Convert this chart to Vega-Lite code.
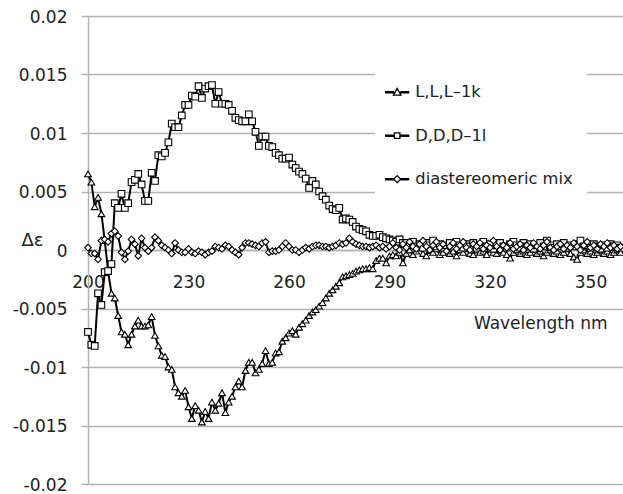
{
"$schema": "https://vega.github.io/schema/vega-lite/v6.json",
"width": 536,
"height": 468,
"autosize": "none",
"padding": {"left": 88, "top": 16, "right": 0, "bottom": 10},
"background": "white",
"config": {"view": {"stroke": null}, "font": "DejaVu Sans"},
"datasets": {
"cd": [
{"series":"L,L,L–1k","nm":200,"de":0.0065},{"series":"L,L,L–1k","nm":201,"de":0.0058},{"series":"L,L,L–1k","nm":202,"de":0.0037},{"series":"L,L,L–1k","nm":203,"de":0.0045},{"series":"L,L,L–1k","nm":204,"de":0.0031},{"series":"L,L,L–1k","nm":205,"de":0.0008},{"series":"L,L,L–1k","nm":206,"de":-0.0018},{"series":"L,L,L–1k","nm":207,"de":-0.0037},{"series":"L,L,L–1k","nm":208,"de":-0.0041},{"series":"L,L,L–1k","nm":209,"de":-0.0056},
{"series":"L,L,L–1k","nm":210,"de":-0.0070},{"series":"L,L,L–1k","nm":211,"de":-0.0072},{"series":"L,L,L–1k","nm":212,"de":-0.0081},{"series":"L,L,L–1k","nm":213,"de":-0.0072},{"series":"L,L,L–1k","nm":214,"de":-0.0065},{"series":"L,L,L–1k","nm":215,"de":-0.0060},{"series":"L,L,L–1k","nm":216,"de":-0.0065},{"series":"L,L,L–1k","nm":217,"de":-0.0065},{"series":"L,L,L–1k","nm":218,"de":-0.0064},{"series":"L,L,L–1k","nm":219,"de":-0.0057},
{"series":"L,L,L–1k","nm":220,"de":-0.0073},{"series":"L,L,L–1k","nm":221,"de":-0.0082},{"series":"L,L,L–1k","nm":222,"de":-0.0090},{"series":"L,L,L–1k","nm":223,"de":-0.0091},{"series":"L,L,L–1k","nm":224,"de":-0.0100},{"series":"L,L,L–1k","nm":225,"de":-0.0102},{"series":"L,L,L–1k","nm":226,"de":-0.0117},{"series":"L,L,L–1k","nm":227,"de":-0.0122},{"series":"L,L,L–1k","nm":228,"de":-0.0125},{"series":"L,L,L–1k","nm":229,"de":-0.0120},
{"series":"L,L,L–1k","nm":230,"de":-0.0134},{"series":"L,L,L–1k","nm":231,"de":-0.0144},{"series":"L,L,L–1k","nm":232,"de":-0.0133},{"series":"L,L,L–1k","nm":233,"de":-0.0137},{"series":"L,L,L–1k","nm":234,"de":-0.0147},{"series":"L,L,L–1k","nm":235,"de":-0.0138},{"series":"L,L,L–1k","nm":236,"de":-0.0144},{"series":"L,L,L–1k","nm":237,"de":-0.0130},{"series":"L,L,L–1k","nm":238,"de":-0.0137},{"series":"L,L,L–1k","nm":239,"de":-0.0131},
{"series":"L,L,L–1k","nm":240,"de":-0.0122},{"series":"L,L,L–1k","nm":241,"de":-0.0139},{"series":"L,L,L–1k","nm":242,"de":-0.0130},{"series":"L,L,L–1k","nm":243,"de":-0.0125},{"series":"L,L,L–1k","nm":244,"de":-0.0117},{"series":"L,L,L–1k","nm":245,"de":-0.0112},{"series":"L,L,L–1k","nm":246,"de":-0.0117},{"series":"L,L,L–1k","nm":247,"de":-0.0103},{"series":"L,L,L–1k","nm":248,"de":-0.0096},{"series":"L,L,L–1k","nm":249,"de":-0.0096},
{"series":"L,L,L–1k","nm":250,"de":-0.0105},{"series":"L,L,L–1k","nm":251,"de":-0.0102},{"series":"L,L,L–1k","nm":252,"de":-0.0097},{"series":"L,L,L–1k","nm":253,"de":-0.0086},{"series":"L,L,L–1k","nm":254,"de":-0.0097},{"series":"L,L,L–1k","nm":255,"de":-0.0096},{"series":"L,L,L–1k","nm":256,"de":-0.0088},{"series":"L,L,L–1k","nm":257,"de":-0.0087},{"series":"L,L,L–1k","nm":258,"de":-0.0078},{"series":"L,L,L–1k","nm":259,"de":-0.0075},
{"series":"L,L,L–1k","nm":260,"de":-0.0071},{"series":"L,L,L–1k","nm":261,"de":-0.0069},{"series":"L,L,L–1k","nm":262,"de":-0.0072},{"series":"L,L,L–1k","nm":263,"de":-0.0066},{"series":"L,L,L–1k","nm":264,"de":-0.0063},{"series":"L,L,L–1k","nm":265,"de":-0.0060},{"series":"L,L,L–1k","nm":266,"de":-0.0056},{"series":"L,L,L–1k","nm":267,"de":-0.0053},{"series":"L,L,L–1k","nm":268,"de":-0.0051},{"series":"L,L,L–1k","nm":269,"de":-0.0048},
{"series":"L,L,L–1k","nm":270,"de":-0.0045},{"series":"L,L,L–1k","nm":271,"de":-0.0041},{"series":"L,L,L–1k","nm":272,"de":-0.0037},{"series":"L,L,L–1k","nm":273,"de":-0.0034},{"series":"L,L,L–1k","nm":274,"de":-0.0031},{"series":"L,L,L–1k","nm":275,"de":-0.0028},{"series":"L,L,L–1k","nm":276,"de":-0.0023},{"series":"L,L,L–1k","nm":277,"de":-0.0022},{"series":"L,L,L–1k","nm":278,"de":-0.0021},{"series":"L,L,L–1k","nm":279,"de":-0.0020},
{"series":"L,L,L–1k","nm":280,"de":-0.0018},{"series":"L,L,L–1k","nm":281,"de":-0.0017},{"series":"L,L,L–1k","nm":282,"de":-0.0016},{"series":"L,L,L–1k","nm":283,"de":-0.0016},{"series":"L,L,L–1k","nm":284,"de":-0.0015},{"series":"L,L,L–1k","nm":285,"de":-0.0016},{"series":"L,L,L–1k","nm":286,"de":-0.0009},{"series":"L,L,L–1k","nm":287,"de":-0.0007},{"series":"L,L,L–1k","nm":288,"de":-0.0007},{"series":"L,L,L–1k","nm":289,"de":-0.0011},
{"series":"L,L,L–1k","nm":290,"de":-0.0005},{"series":"L,L,L–1k","nm":291,"de":-0.0004},{"series":"L,L,L–1k","nm":292,"de":-0.0005},{"series":"L,L,L–1k","nm":293,"de":-0.0002},{"series":"L,L,L–1k","nm":294,"de":-0.0011},{"series":"L,L,L–1k","nm":295,"de":-0.0003},{"series":"L,L,L–1k","nm":296,"de":0.0000},{"series":"L,L,L–1k","nm":297,"de":-0.0004},{"series":"L,L,L–1k","nm":298,"de":-0.0001},{"series":"L,L,L–1k","nm":299,"de":0.0002},
{"series":"L,L,L–1k","nm":300,"de":-0.0003},{"series":"L,L,L–1k","nm":301,"de":-0.0005},{"series":"L,L,L–1k","nm":302,"de":0.0000},{"series":"L,L,L–1k","nm":303,"de":-0.0002},{"series":"L,L,L–1k","nm":304,"de":0.0001},{"series":"L,L,L–1k","nm":305,"de":-0.0004},{"series":"L,L,L–1k","nm":306,"de":-0.0002},{"series":"L,L,L–1k","nm":307,"de":0.0001},{"series":"L,L,L–1k","nm":308,"de":-0.0003},{"series":"L,L,L–1k","nm":309,"de":-0.0001},
{"series":"L,L,L–1k","nm":310,"de":-0.0005},{"series":"L,L,L–1k","nm":311,"de":0.0000},{"series":"L,L,L–1k","nm":312,"de":-0.0002},{"series":"L,L,L–1k","nm":313,"de":0.0001},{"series":"L,L,L–1k","nm":314,"de":-0.0003},{"series":"L,L,L–1k","nm":315,"de":-0.0004},{"series":"L,L,L–1k","nm":316,"de":0.0000},{"series":"L,L,L–1k","nm":317,"de":-0.0002},{"series":"L,L,L–1k","nm":318,"de":-0.0001},{"series":"L,L,L–1k","nm":319,"de":-0.0004},
{"series":"L,L,L–1k","nm":320,"de":0.0001},{"series":"L,L,L–1k","nm":321,"de":-0.0002},{"series":"L,L,L–1k","nm":322,"de":-0.0003},{"series":"L,L,L–1k","nm":323,"de":0.0000},{"series":"L,L,L–1k","nm":324,"de":-0.0002},{"series":"L,L,L–1k","nm":325,"de":-0.0004},{"series":"L,L,L–1k","nm":326,"de":-0.0007},{"series":"L,L,L–1k","nm":327,"de":-0.0002},{"series":"L,L,L–1k","nm":328,"de":0.0000},{"series":"L,L,L–1k","nm":329,"de":-0.0003},
{"series":"L,L,L–1k","nm":330,"de":-0.0001},{"series":"L,L,L–1k","nm":331,"de":-0.0004},{"series":"L,L,L–1k","nm":332,"de":-0.0002},{"series":"L,L,L–1k","nm":333,"de":0.0001},{"series":"L,L,L–1k","nm":334,"de":-0.0003},{"series":"L,L,L–1k","nm":335,"de":-0.0001},{"series":"L,L,L–1k","nm":336,"de":-0.0005},{"series":"L,L,L–1k","nm":337,"de":-0.0002},{"series":"L,L,L–1k","nm":338,"de":0.0000},{"series":"L,L,L–1k","nm":339,"de":-0.0003},
{"series":"L,L,L–1k","nm":340,"de":-0.0001},{"series":"L,L,L–1k","nm":341,"de":-0.0004},{"series":"L,L,L–1k","nm":342,"de":-0.0002},{"series":"L,L,L–1k","nm":343,"de":0.0001},{"series":"L,L,L–1k","nm":344,"de":-0.0003},{"series":"L,L,L–1k","nm":345,"de":-0.0006},{"series":"L,L,L–1k","nm":346,"de":-0.0008},{"series":"L,L,L–1k","nm":347,"de":-0.0002},{"series":"L,L,L–1k","nm":348,"de":0.0000},{"series":"L,L,L–1k","nm":349,"de":-0.0003},
{"series":"L,L,L–1k","nm":350,"de":-0.0001},{"series":"L,L,L–1k","nm":351,"de":-0.0004},{"series":"L,L,L–1k","nm":352,"de":-0.0002},{"series":"L,L,L–1k","nm":353,"de":0.0000},{"series":"L,L,L–1k","nm":354,"de":-0.0003},{"series":"L,L,L–1k","nm":355,"de":-0.0001},{"series":"L,L,L–1k","nm":356,"de":-0.0004},{"series":"L,L,L–1k","nm":357,"de":-0.0002},{"series":"L,L,L–1k","nm":358,"de":0.0000},{"series":"L,L,L–1k","nm":359,"de":-0.0002},

{"series":"D,D,D–1l","nm":200,"de":-0.0070},{"series":"D,D,D–1l","nm":201,"de":-0.0081},{"series":"D,D,D–1l","nm":202,"de":-0.0082},{"series":"D,D,D–1l","nm":203,"de":-0.0037},{"series":"D,D,D–1l","nm":204,"de":-0.0047},{"series":"D,D,D–1l","nm":205,"de":-0.0019},{"series":"D,D,D–1l","nm":206,"de":-0.0018},{"series":"D,D,D–1l","nm":207,"de":-0.0012},{"series":"D,D,D–1l","nm":208,"de":0.0040},{"series":"D,D,D–1l","nm":209,"de":0.0036},
{"series":"D,D,D–1l","nm":210,"de":0.0048},{"series":"D,D,D–1l","nm":211,"de":0.0036},{"series":"D,D,D–1l","nm":212,"de":0.0040},{"series":"D,D,D–1l","nm":213,"de":0.0058},{"series":"D,D,D–1l","nm":214,"de":0.0060},{"series":"D,D,D–1l","nm":215,"de":0.0065},{"series":"D,D,D–1l","nm":216,"de":0.0056},{"series":"D,D,D–1l","nm":217,"de":0.0042},{"series":"D,D,D–1l","nm":218,"de":0.0042},{"series":"D,D,D–1l","nm":219,"de":0.0066},
{"series":"D,D,D–1l","nm":220,"de":0.0059},{"series":"D,D,D–1l","nm":221,"de":0.0081},{"series":"D,D,D–1l","nm":222,"de":0.0080},{"series":"D,D,D–1l","nm":223,"de":0.0083},{"series":"D,D,D–1l","nm":224,"de":0.0092},{"series":"D,D,D–1l","nm":225,"de":0.0108},{"series":"D,D,D–1l","nm":226,"de":0.0105},{"series":"D,D,D–1l","nm":227,"de":0.0105},{"series":"D,D,D–1l","nm":228,"de":0.0115},{"series":"D,D,D–1l","nm":229,"de":0.0124},
{"series":"D,D,D–1l","nm":230,"de":0.0124},{"series":"D,D,D–1l","nm":231,"de":0.0132},{"series":"D,D,D–1l","nm":232,"de":0.0131},{"series":"D,D,D–1l","nm":233,"de":0.0140},{"series":"D,D,D–1l","nm":234,"de":0.0130},{"series":"D,D,D–1l","nm":235,"de":0.0138},{"series":"D,D,D–1l","nm":236,"de":0.0140},{"series":"D,D,D–1l","nm":237,"de":0.0141},{"series":"D,D,D–1l","nm":238,"de":0.0125},{"series":"D,D,D–1l","nm":239,"de":0.0135},
{"series":"D,D,D–1l","nm":240,"de":0.0125},{"series":"D,D,D–1l","nm":241,"de":0.0125},{"series":"D,D,D–1l","nm":242,"de":0.0124},{"series":"D,D,D–1l","nm":243,"de":0.0119},{"series":"D,D,D–1l","nm":244,"de":0.0113},{"series":"D,D,D–1l","nm":245,"de":0.0111},{"series":"D,D,D–1l","nm":246,"de":0.0110},{"series":"D,D,D–1l","nm":247,"de":0.0110},{"series":"D,D,D–1l","nm":248,"de":0.0116},{"series":"D,D,D–1l","nm":249,"de":0.0110},
{"series":"D,D,D–1l","nm":250,"de":0.0101},{"series":"D,D,D–1l","nm":251,"de":0.0089},{"series":"D,D,D–1l","nm":252,"de":0.0097},{"series":"D,D,D–1l","nm":253,"de":0.0097},{"series":"D,D,D–1l","nm":254,"de":0.0089},{"series":"D,D,D–1l","nm":255,"de":0.0088},{"series":"D,D,D–1l","nm":256,"de":0.0083},{"series":"D,D,D–1l","nm":257,"de":0.0081},{"series":"D,D,D–1l","nm":258,"de":0.0078},{"series":"D,D,D–1l","nm":259,"de":0.0078},
{"series":"D,D,D–1l","nm":260,"de":0.0079},{"series":"D,D,D–1l","nm":261,"de":0.0073},{"series":"D,D,D–1l","nm":262,"de":0.0070},{"series":"D,D,D–1l","nm":263,"de":0.0067},{"series":"D,D,D–1l","nm":264,"de":0.0065},{"series":"D,D,D–1l","nm":265,"de":0.0061},{"series":"D,D,D–1l","nm":266,"de":0.0053},{"series":"D,D,D–1l","nm":267,"de":0.0059},{"series":"D,D,D–1l","nm":268,"de":0.0056},{"series":"D,D,D–1l","nm":269,"de":0.0050},
{"series":"D,D,D–1l","nm":270,"de":0.0046},{"series":"D,D,D–1l","nm":271,"de":0.0043},{"series":"D,D,D–1l","nm":272,"de":0.0038},{"series":"D,D,D–1l","nm":273,"de":0.0035},{"series":"D,D,D–1l","nm":274,"de":0.0034},{"series":"D,D,D–1l","nm":275,"de":0.0036},{"series":"D,D,D–1l","nm":276,"de":0.0026},{"series":"D,D,D–1l","nm":277,"de":0.0027},{"series":"D,D,D–1l","nm":278,"de":0.0026},{"series":"D,D,D–1l","nm":279,"de":0.0024},
{"series":"D,D,D–1l","nm":280,"de":0.0020},{"series":"D,D,D–1l","nm":281,"de":0.0018},{"series":"D,D,D–1l","nm":282,"de":0.0017},{"series":"D,D,D–1l","nm":283,"de":0.0016},{"series":"D,D,D–1l","nm":284,"de":0.0013},{"series":"D,D,D–1l","nm":285,"de":0.0012},{"series":"D,D,D–1l","nm":286,"de":0.0012},{"series":"D,D,D–1l","nm":287,"de":0.0013},{"series":"D,D,D–1l","nm":288,"de":0.0011},{"series":"D,D,D–1l","nm":289,"de":0.0010},
{"series":"D,D,D–1l","nm":290,"de":0.0009},{"series":"D,D,D–1l","nm":291,"de":0.0008},{"series":"D,D,D–1l","nm":292,"de":0.0007},{"series":"D,D,D–1l","nm":293,"de":0.0009},{"series":"D,D,D–1l","nm":294,"de":0.0006},{"series":"D,D,D–1l","nm":295,"de":0.0006},{"series":"D,D,D–1l","nm":296,"de":0.0004},{"series":"D,D,D–1l","nm":297,"de":0.0007},{"series":"D,D,D–1l","nm":298,"de":0.0003},{"series":"D,D,D–1l","nm":299,"de":0.0005},
{"series":"D,D,D–1l","nm":300,"de":0.0002},{"series":"D,D,D–1l","nm":301,"de":0.0006},{"series":"D,D,D–1l","nm":302,"de":0.0004},{"series":"D,D,D–1l","nm":303,"de":0.0008},{"series":"D,D,D–1l","nm":304,"de":0.0003},{"series":"D,D,D–1l","nm":305,"de":0.0005},{"series":"D,D,D–1l","nm":306,"de":0.0002},{"series":"D,D,D–1l","nm":307,"de":0.0004},{"series":"D,D,D–1l","nm":308,"de":0.0006},{"series":"D,D,D–1l","nm":309,"de":0.0003},
{"series":"D,D,D–1l","nm":310,"de":0.0007},{"series":"D,D,D–1l","nm":311,"de":0.0004},{"series":"D,D,D–1l","nm":312,"de":0.0002},{"series":"D,D,D–1l","nm":313,"de":0.0005},{"series":"D,D,D–1l","nm":314,"de":0.0003},{"series":"D,D,D–1l","nm":315,"de":0.0006},{"series":"D,D,D–1l","nm":316,"de":0.0002},{"series":"D,D,D–1l","nm":317,"de":0.0004},{"series":"D,D,D–1l","nm":318,"de":0.0007},{"series":"D,D,D–1l","nm":319,"de":0.0003},
{"series":"D,D,D–1l","nm":320,"de":0.0005},{"series":"D,D,D–1l","nm":321,"de":0.0001},{"series":"D,D,D–1l","nm":322,"de":0.0004},{"series":"D,D,D–1l","nm":323,"de":0.0006},{"series":"D,D,D–1l","nm":324,"de":0.0003},{"series":"D,D,D–1l","nm":325,"de":0.0002},{"series":"D,D,D–1l","nm":326,"de":0.0005},{"series":"D,D,D–1l","nm":327,"de":0.0007},{"series":"D,D,D–1l","nm":328,"de":0.0004},{"series":"D,D,D–1l","nm":329,"de":0.0002},
{"series":"D,D,D–1l","nm":330,"de":0.0006},{"series":"D,D,D–1l","nm":331,"de":0.0003},{"series":"D,D,D–1l","nm":332,"de":0.0005},{"series":"D,D,D–1l","nm":333,"de":0.0001},{"series":"D,D,D–1l","nm":334,"de":0.0004},{"series":"D,D,D–1l","nm":335,"de":0.0006},{"series":"D,D,D–1l","nm":336,"de":0.0003},{"series":"D,D,D–1l","nm":337,"de":0.0008},{"series":"D,D,D–1l","nm":338,"de":0.0004},{"series":"D,D,D–1l","nm":339,"de":0.0002},
{"series":"D,D,D–1l","nm":340,"de":0.0005},{"series":"D,D,D–1l","nm":341,"de":0.0003},{"series":"D,D,D–1l","nm":342,"de":0.0006},{"series":"D,D,D–1l","nm":343,"de":0.0002},{"series":"D,D,D–1l","nm":344,"de":0.0004},{"series":"D,D,D–1l","nm":345,"de":0.0003},{"series":"D,D,D–1l","nm":346,"de":0.0005},{"series":"D,D,D–1l","nm":347,"de":0.0008},{"series":"D,D,D–1l","nm":348,"de":0.0003},{"series":"D,D,D–1l","nm":349,"de":0.0004},
{"series":"D,D,D–1l","nm":350,"de":0.0002},{"series":"D,D,D–1l","nm":351,"de":0.0005},{"series":"D,D,D–1l","nm":352,"de":0.0003},{"series":"D,D,D–1l","nm":353,"de":0.0001},{"series":"D,D,D–1l","nm":354,"de":0.0004},{"series":"D,D,D–1l","nm":355,"de":0.0002},{"series":"D,D,D–1l","nm":356,"de":0.0005},{"series":"D,D,D–1l","nm":357,"de":0.0003},{"series":"D,D,D–1l","nm":358,"de":0.0004},{"series":"D,D,D–1l","nm":359,"de":0.0002},

{"series":"diastereomeric mix","nm":200,"de":0.0002},{"series":"diastereomeric mix","nm":201,"de":-0.0003},{"series":"diastereomeric mix","nm":202,"de":-0.0003},{"series":"diastereomeric mix","nm":203,"de":-0.0008},{"series":"diastereomeric mix","nm":204,"de":0.0008},{"series":"diastereomeric mix","nm":205,"de":0.0009},{"series":"diastereomeric mix","nm":206,"de":0.0007},{"series":"diastereomeric mix","nm":207,"de":0.0014},{"series":"diastereomeric mix","nm":208,"de":0.0016},{"series":"diastereomeric mix","nm":209,"de":0.0012},
{"series":"diastereomeric mix","nm":210,"de":-0.0002},{"series":"diastereomeric mix","nm":211,"de":-0.0008},{"series":"diastereomeric mix","nm":212,"de":-0.0001},{"series":"diastereomeric mix","nm":213,"de":0.0009},{"series":"diastereomeric mix","nm":214,"de":0.0005},{"series":"diastereomeric mix","nm":215,"de":-0.0005},{"series":"diastereomeric mix","nm":216,"de":0.0010},{"series":"diastereomeric mix","nm":217,"de":0.0002},{"series":"diastereomeric mix","nm":218,"de":-0.0001},{"series":"diastereomeric mix","nm":219,"de":0.0002},
{"series":"diastereomeric mix","nm":220,"de":0.0011},{"series":"diastereomeric mix","nm":221,"de":0.0008},{"series":"diastereomeric mix","nm":222,"de":0.0004},{"series":"diastereomeric mix","nm":223,"de":0.0002},{"series":"diastereomeric mix","nm":224,"de":0.0000},{"series":"diastereomeric mix","nm":225,"de":-0.0003},{"series":"diastereomeric mix","nm":226,"de":0.0006},{"series":"diastereomeric mix","nm":227,"de":0.0000},{"series":"diastereomeric mix","nm":228,"de":-0.0002},{"series":"diastereomeric mix","nm":229,"de":-0.0002},
{"series":"diastereomeric mix","nm":230,"de":0.0001},{"series":"diastereomeric mix","nm":231,"de":-0.0002},{"series":"diastereomeric mix","nm":232,"de":-0.0003},{"series":"diastereomeric mix","nm":233,"de":-0.0001},{"series":"diastereomeric mix","nm":234,"de":-0.0002},{"series":"diastereomeric mix","nm":235,"de":-0.0004},{"series":"diastereomeric mix","nm":236,"de":-0.0002},{"series":"diastereomeric mix","nm":237,"de":-0.0001},{"series":"diastereomeric mix","nm":238,"de":0.0003},{"series":"diastereomeric mix","nm":239,"de":0.0002},
{"series":"diastereomeric mix","nm":240,"de":0.0001},{"series":"diastereomeric mix","nm":241,"de":0.0004},{"series":"diastereomeric mix","nm":242,"de":0.0003},{"series":"diastereomeric mix","nm":243,"de":0.0000},{"series":"diastereomeric mix","nm":244,"de":-0.0002},{"series":"diastereomeric mix","nm":245,"de":-0.0004},{"series":"diastereomeric mix","nm":246,"de":0.0002},{"series":"diastereomeric mix","nm":247,"de":0.0006},{"series":"diastereomeric mix","nm":248,"de":0.0006},{"series":"diastereomeric mix","nm":249,"de":0.0005},
{"series":"diastereomeric mix","nm":250,"de":0.0004},{"series":"diastereomeric mix","nm":251,"de":0.0003},{"series":"diastereomeric mix","nm":252,"de":0.0006},{"series":"diastereomeric mix","nm":253,"de":0.0007},{"series":"diastereomeric mix","nm":254,"de":-0.0002},{"series":"diastereomeric mix","nm":255,"de":-0.0001},{"series":"diastereomeric mix","nm":256,"de":-0.0001},{"series":"diastereomeric mix","nm":257,"de":0.0000},{"series":"diastereomeric mix","nm":258,"de":0.0003},{"series":"diastereomeric mix","nm":259,"de":0.0006},
{"series":"diastereomeric mix","nm":260,"de":0.0003},{"series":"diastereomeric mix","nm":261,"de":0.0000},{"series":"diastereomeric mix","nm":262,"de":0.0000},{"series":"diastereomeric mix","nm":263,"de":-0.0002},{"series":"diastereomeric mix","nm":264,"de":0.0000},{"series":"diastereomeric mix","nm":265,"de":0.0002},{"series":"diastereomeric mix","nm":266,"de":0.0001},{"series":"diastereomeric mix","nm":267,"de":0.0003},{"series":"diastereomeric mix","nm":268,"de":0.0004},{"series":"diastereomeric mix","nm":269,"de":0.0004},
{"series":"diastereomeric mix","nm":270,"de":0.0003},{"series":"diastereomeric mix","nm":271,"de":0.0003},{"series":"diastereomeric mix","nm":272,"de":0.0002},{"series":"diastereomeric mix","nm":273,"de":0.0003},{"series":"diastereomeric mix","nm":274,"de":0.0004},{"series":"diastereomeric mix","nm":275,"de":0.0006},{"series":"diastereomeric mix","nm":276,"de":0.0005},{"series":"diastereomeric mix","nm":277,"de":0.0006},{"series":"diastereomeric mix","nm":278,"de":0.0010},{"series":"diastereomeric mix","nm":279,"de":0.0007},
{"series":"diastereomeric mix","nm":280,"de":0.0005},{"series":"diastereomeric mix","nm":281,"de":0.0004},{"series":"diastereomeric mix","nm":282,"de":0.0003},{"series":"diastereomeric mix","nm":283,"de":0.0003},{"series":"diastereomeric mix","nm":284,"de":0.0002},{"series":"diastereomeric mix","nm":285,"de":0.0003},{"series":"diastereomeric mix","nm":286,"de":0.0004},{"series":"diastereomeric mix","nm":287,"de":0.0002},{"series":"diastereomeric mix","nm":288,"de":0.0003},{"series":"diastereomeric mix","nm":289,"de":0.0001},
{"series":"diastereomeric mix","nm":290,"de":0.0003},{"series":"diastereomeric mix","nm":291,"de":0.0006},{"series":"diastereomeric mix","nm":292,"de":0.0002},{"series":"diastereomeric mix","nm":293,"de":0.0000},{"series":"diastereomeric mix","nm":294,"de":0.0005},{"series":"diastereomeric mix","nm":295,"de":0.0002},{"series":"diastereomeric mix","nm":296,"de":0.0007},{"series":"diastereomeric mix","nm":297,"de":0.0003},{"series":"diastereomeric mix","nm":298,"de":0.0001},{"series":"diastereomeric mix","nm":299,"de":0.0005},
{"series":"diastereomeric mix","nm":300,"de":0.0008},{"series":"diastereomeric mix","nm":301,"de":0.0003},{"series":"diastereomeric mix","nm":302,"de":0.0000},{"series":"diastereomeric mix","nm":303,"de":0.0004},{"series":"diastereomeric mix","nm":304,"de":0.0007},{"series":"diastereomeric mix","nm":305,"de":0.0002},{"series":"diastereomeric mix","nm":306,"de":0.0005},{"series":"diastereomeric mix","nm":307,"de":-0.0001},{"series":"diastereomeric mix","nm":308,"de":0.0003},{"series":"diastereomeric mix","nm":309,"de":0.0006},
{"series":"diastereomeric mix","nm":310,"de":0.0001},{"series":"diastereomeric mix","nm":311,"de":0.0004},{"series":"diastereomeric mix","nm":312,"de":0.0007},{"series":"diastereomeric mix","nm":313,"de":0.0002},{"series":"diastereomeric mix","nm":314,"de":0.0000},{"series":"diastereomeric mix","nm":315,"de":0.0005},{"series":"diastereomeric mix","nm":316,"de":0.0003},{"series":"diastereomeric mix","nm":317,"de":0.0006},{"series":"diastereomeric mix","nm":318,"de":0.0001},{"series":"diastereomeric mix","nm":319,"de":0.0004},
{"series":"diastereomeric mix","nm":320,"de":0.0002},{"series":"diastereomeric mix","nm":321,"de":0.0008},{"series":"diastereomeric mix","nm":322,"de":0.0003},{"series":"diastereomeric mix","nm":323,"de":0.0000},{"series":"diastereomeric mix","nm":324,"de":0.0004},{"series":"diastereomeric mix","nm":325,"de":0.0002},{"series":"diastereomeric mix","nm":326,"de":0.0006},{"series":"diastereomeric mix","nm":327,"de":0.0001},{"series":"diastereomeric mix","nm":328,"de":0.0003},{"series":"diastereomeric mix","nm":329,"de":0.0005},
{"series":"diastereomeric mix","nm":330,"de":0.0000},{"series":"diastereomeric mix","nm":331,"de":0.0004},{"series":"diastereomeric mix","nm":332,"de":0.0002},{"series":"diastereomeric mix","nm":333,"de":0.0006},{"series":"diastereomeric mix","nm":334,"de":0.0003},{"series":"diastereomeric mix","nm":335,"de":0.0001},{"series":"diastereomeric mix","nm":336,"de":0.0004},{"series":"diastereomeric mix","nm":337,"de":0.0007},{"series":"diastereomeric mix","nm":338,"de":0.0002},{"series":"diastereomeric mix","nm":339,"de":0.0000},
{"series":"diastereomeric mix","nm":340,"de":0.0003},{"series":"diastereomeric mix","nm":341,"de":0.0005},{"series":"diastereomeric mix","nm":342,"de":0.0001},{"series":"diastereomeric mix","nm":343,"de":0.0004},{"series":"diastereomeric mix","nm":344,"de":0.0002},{"series":"diastereomeric mix","nm":345,"de":0.0006},{"series":"diastereomeric mix","nm":346,"de":0.0003},{"series":"diastereomeric mix","nm":347,"de":0.0000},{"series":"diastereomeric mix","nm":348,"de":0.0004},{"series":"diastereomeric mix","nm":349,"de":0.0007},
{"series":"diastereomeric mix","nm":350,"de":0.0002},{"series":"diastereomeric mix","nm":351,"de":0.0004},{"series":"diastereomeric mix","nm":352,"de":0.0001},{"series":"diastereomeric mix","nm":353,"de":0.0005},{"series":"diastereomeric mix","nm":354,"de":0.0003},{"series":"diastereomeric mix","nm":355,"de":0.0006},{"series":"diastereomeric mix","nm":356,"de":0.0002},{"series":"diastereomeric mix","nm":357,"de":0.0004},{"series":"diastereomeric mix","nm":358,"de":0.0001},{"series":"diastereomeric mix","nm":359,"de":0.0003}
],
"legendrows": [
{"series":"L,L,L–1k"},{"series":"D,D,D–1l"},{"series":"diastereomeric mix"}
]
},
"layer": [
{
"data": {"name": "cd"},
"mark": {"type": "line", "color": "black", "strokeWidth": 2},
"encoding": {
"x": {"field": "nm", "type": "quantitative",
  "scale": {"domain": [200, 360], "nice": false, "zero": false},
  "axis": {"offset": -234, "values": [200, 230, 260, 290, 320, 350], "grid": false, "ticks": false,
    "domainColor": "#b3b3b3", "domainWidth": 1.5,
    "labelFont": "DejaVu Sans", "labelFontSize": 17, "labelColor": "#222222", "labelPadding": 24, "labelFlush": false,
    "title": "Wavelength nm", "titleFont": "DejaVu Sans", "titleFontSize": 17, "titleFontWeight": "normal", "titleColor": "#222222",
    "titleX": 519, "titleY": 73, "titleAlign": "right", "titleBaseline": "middle", "titleAnchor": null}},
"y": {"field": "de", "type": "quantitative",
  "scale": {"domain": [-0.02, 0.02], "nice": false, "zero": false},
  "axis": {"values": [-0.02, -0.015, -0.01, -0.005, 0, 0.005, 0.01, 0.015, 0.02], "format": "~g",
    "labelExpr": "replace(datum.label, '\u2212', '-')",
    "grid": true, "gridColor": "#b3b3b3", "gridWidth": 1.5,
    "domainColor": "#b3b3b3", "domainWidth": 1.5, "tickColor": "#b3b3b3", "tickWidth": 1.5, "tickSize": 7,
    "labelFont": "DejaVu Sans", "labelFontSize": 17, "labelColor": "#222222", "labelPadding": 14, "labelOffset": 1,
    "title": "Δε", "titleAngle": 0, "titleX": -56, "titleY": 224, "titleAlign": "center", "titleBaseline": "middle",
    "titleFont": "DejaVu Sans", "titleFontSize": 18, "titleFontWeight": "normal", "titleColor": "#222222"}},
"detail": {"field": "series"}
}
},
{
"data": {"name": "cd"},
"mark": {"type": "point", "filled": true, "fill": "white", "stroke": "black", "strokeWidth": 1.1, "size": 44, "opacity": 1},
"encoding": {
"x": {"field": "nm", "type": "quantitative"},
"y": {"field": "de", "type": "quantitative"},
"shape": {"field": "series", "type": "nominal",
  "scale": {"domain": ["L,L,L–1k", "D,D,D–1l", "diastereomeric mix"], "range": ["triangle-up", "square", "diamond"]},
  "legend": null}
}
},
{
"data": {"name": "legendrows"},
"mark": {"type": "point", "filled": false, "color": "black", "strokeWidth": 1.3, "opacity": 1},
"encoding": {
"x": {"field": "nm", "type": "quantitative"},
"y": {"field": "de", "type": "quantitative"},
"shape": {"field": "series", "type": "nominal",
  "scale": {"domain": ["L,L,L–1k", "D,D,D–1l", "diastereomeric mix"],
    "range": [
      "M-2.3,-0.12H-0.75V0.12H-2.3Z M0.75,-0.12H2.3V0.12H0.75Z M0,-0.75L0.75,0.6H-0.75Z",
      "M-2.3,-0.12H-0.6V0.12H-2.3Z M0.6,-0.12H2.3V0.12H0.6Z M-0.55,-0.55H0.55V0.55H-0.55Z",
      "M-2.3,-0.12H-0.7V0.12H-2.3Z M0.7,-0.12H2.3V0.12H0.7Z M0,-0.7L0.7,0L0,0.7L-0.7,0Z"]},
  "legend": {"orient": "none", "legendX": 287, "legendY": 54, "title": null, "padding": 14,
    "fillColor": "white", "strokeColor": null,
    "symbolSize": 100, "symbolStrokeWidth": 1.3, "symbolStrokeColor": "black", "symbolOpacity": 1,
    "labelFont": "DejaVu Sans", "labelFontSize": 16.3, "labelColor": "#222222", "labelOffset": 10, "rowPadding": 26.5, "labelLimit": 300}}
}
}
],
"resolve": {"scale": {"shape": "independent"}}
}
